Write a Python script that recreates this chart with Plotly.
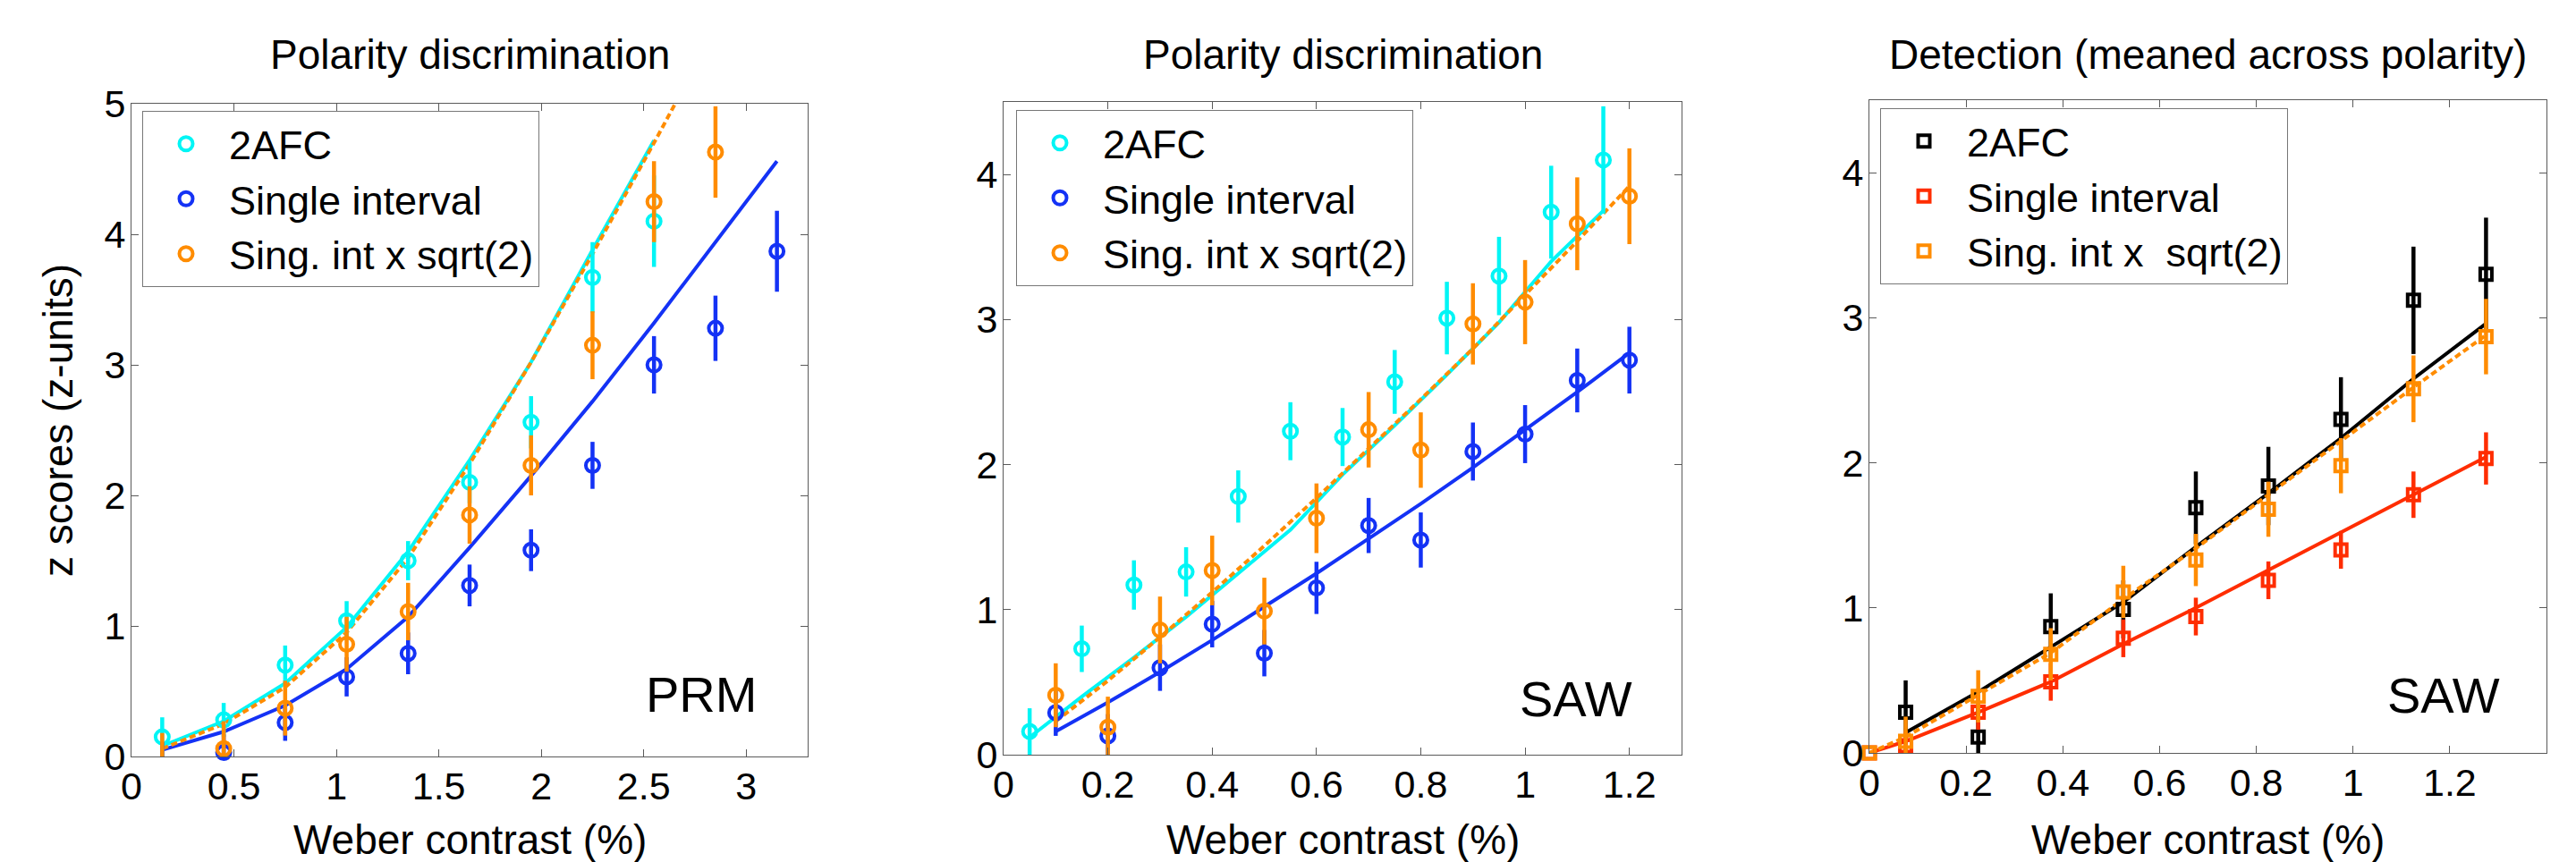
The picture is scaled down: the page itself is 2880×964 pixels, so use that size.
import plotly.graph_objects as go

FONT = "Liberation Sans, Arial, Helvetica, sans-serif"

CYAN = "#00F5F5"
BLUE = "#1432F5"
ORANGE = "#FF8C00"
RED = "#FF2D00"
BLACK = "#000000"

# ---------------- Panel 1 : Polarity discrimination, PRM ----------------
p1_x_2afc = [0.15, 0.45, 0.75, 1.05, 1.35, 1.65, 1.95, 2.25, 2.55]
p1_y_2afc = [0.15, 0.28, 0.70, 1.04, 1.50, 2.10, 2.56, 3.67, 4.10]
p1_e_2afc = [0.15, 0.13, 0.15, 0.15, 0.15, 0.16, 0.20, 0.27, 0.35]

p1_x_si = [0.15, 0.45, 0.75, 1.05, 1.35, 1.65, 1.95, 2.25, 2.55, 2.85, 3.15]
p1_y_si = [-0.03, 0.03, 0.26, 0.61, 0.79, 1.31, 1.58, 2.23, 3.00, 3.28, 3.87]
p1_e_si = [0.14, 0.14, 0.14, 0.15, 0.16, 0.16, 0.16, 0.18, 0.22, 0.25, 0.31]

p1_x_sq = [0.15, 0.45, 0.75, 1.05, 1.35, 1.65, 1.95, 2.25, 2.55, 2.85]
p1_y_sq = [-0.05, 0.06, 0.37, 0.86, 1.11, 1.85, 2.23, 3.15, 4.25, 4.63]
p1_e_sq = [0.23, 0.21, 0.21, 0.21, 0.22, 0.22, 0.23, 0.26, 0.31, 0.35]

p1_fit_x_2afc = [0.15, 0.45, 0.75, 1.05, 1.35, 1.65, 1.95, 2.25, 2.55]
p1_fit_y_2afc = [0.08, 0.27, 0.56, 0.99, 1.57, 2.27, 3.02, 3.88, 4.72]
p1_fit_x_si = [0.15, 0.45, 0.75, 1.05, 1.35, 1.65, 1.95, 2.25, 2.55, 2.85, 3.15]
p1_fit_y_si = [0.05, 0.19, 0.39, 0.67, 1.07, 1.60, 2.15, 2.72, 3.32, 3.94, 4.56]
p1_fit_x_sq = [0.15, 0.45, 0.75, 1.05, 1.35, 1.65, 1.95, 2.25, 2.55, 2.85]
p1_fit_y_sq = [0.06, 0.25, 0.53, 0.95, 1.52, 2.24, 3.02, 3.85, 4.70, 5.57]

# ---------------- Panel 2 : Polarity discrimination, SAW ----------------
p2_x_2afc = [0.05, 0.15, 0.25, 0.35, 0.45, 0.55, 0.65, 0.75, 0.85, 0.95, 1.05, 1.15]
p2_y_2afc = [0.16, 0.73, 1.17, 1.26, 1.78, 2.23, 2.19, 2.57, 3.01, 3.30, 3.74, 4.10]
p2_e_2afc = [0.16, 0.16, 0.17, 0.17, 0.18, 0.20, 0.20, 0.22, 0.25, 0.27, 0.32, 0.37]

p2_x_si = [0.1, 0.2, 0.3, 0.4, 0.5, 0.6, 0.7, 0.8, 0.9, 1.0, 1.1, 1.2]
p2_y_si = [0.29, 0.13, 0.60, 0.90, 0.70, 1.15, 1.58, 1.48, 2.09, 2.21, 2.58, 2.72]
p2_e_si = [0.16, 0.15, 0.16, 0.16, 0.16, 0.18, 0.19, 0.19, 0.20, 0.20, 0.22, 0.23]

p2_x_sq = [0.1, 0.2, 0.3, 0.4, 0.5, 0.6, 0.7, 0.8, 0.9, 1.0, 1.1, 1.2]
p2_y_sq = [0.41, 0.19, 0.86, 1.27, 0.99, 1.63, 2.24, 2.10, 2.97, 3.12, 3.66, 3.85]
p2_e_sq = [0.22, 0.21, 0.23, 0.24, 0.23, 0.24, 0.26, 0.26, 0.28, 0.29, 0.32, 0.33]

p2_fit_x_2afc = [0.05, 0.15, 0.25, 0.35, 0.45, 0.55, 0.65, 0.75, 0.85, 0.95, 1.05, 1.15]
p2_fit_y_2afc = [0.12, 0.40, 0.67, 0.95, 1.25, 1.55, 1.93, 2.27, 2.62, 2.98, 3.40, 3.75]
p2_fit_x_si = [0.1, 0.2, 0.3, 0.4, 0.5, 0.6, 0.7, 0.8, 0.9, 1.0, 1.1, 1.2]
p2_fit_y_si = [0.16, 0.36, 0.57, 0.79, 1.02, 1.25, 1.49, 1.73, 1.98, 2.24, 2.50, 2.77]
p2_fit_x_sq = [0.1, 0.2, 0.3, 0.4, 0.5, 0.6, 0.7, 0.8, 0.9, 1.0, 1.1, 1.2]
p2_fit_y_sq = [0.23, 0.51, 0.81, 1.12, 1.44, 1.77, 2.11, 2.45, 2.80, 3.17, 3.54, 3.92]

# ---------------- Panel 3 : Detection, SAW ----------------
p3_x_2afc = [0.075, 0.225, 0.375, 0.525, 0.675, 0.825, 0.975, 1.125, 1.275]
p3_y_2afc = [0.28, 0.11, 0.87, 0.99, 1.69, 1.84, 2.30, 3.12, 3.30]
p3_e_2afc = [0.22, 0.20, 0.23, 0.20, 0.25, 0.27, 0.29, 0.37, 0.39]

p3_x_si = [0.0, 0.075, 0.225, 0.375, 0.525, 0.675, 0.825, 0.975, 1.125, 1.275]
p3_y_si = [0.0, 0.05, 0.28, 0.49, 0.79, 0.94, 1.19, 1.40, 1.78, 2.03]
p3_e_si = [0.0, 0.10, 0.12, 0.13, 0.13, 0.13, 0.13, 0.13, 0.16, 0.18]

p3_x_sq = [0.0, 0.075, 0.225, 0.375, 0.525, 0.675, 0.825, 0.975, 1.125, 1.275]
p3_y_sq = [0.0, 0.08, 0.39, 0.68, 1.11, 1.33, 1.68, 1.98, 2.51, 2.87]
p3_e_sq = [0.0, 0.17, 0.18, 0.18, 0.18, 0.18, 0.19, 0.19, 0.23, 0.26]

p3_fit_x_2afc = [0.075, 0.225, 0.375, 0.525, 0.675, 0.825, 0.975, 1.125, 1.275]
p3_fit_y_2afc = [0.14, 0.42, 0.73, 1.04, 1.42, 1.79, 2.17, 2.58, 2.96]
p3_fit_x_si = [0.0, 0.075, 0.225, 0.375, 0.525, 0.675, 0.825, 0.975, 1.125, 1.275]
p3_fit_y_si = [0.0, 0.08, 0.28, 0.49, 0.75, 1.00, 1.26, 1.52, 1.78, 2.04]
p3_fit_x_sq = [0.0, 0.075, 0.225, 0.375, 0.525, 0.675, 0.825, 0.975, 1.125, 1.275]
p3_fit_y_sq = [0.0, 0.11, 0.40, 0.69, 1.06, 1.41, 1.78, 2.15, 2.52, 2.88]

legend_labels_12 = ["2AFC", "Single interval", "Sing. int x sqrt(2)"]
legend_labels_3 = ["2AFC", "Single interval", "Sing. int x \u00a0sqrt(2)"]
panel_titles = ["Polarity discrimination", "Polarity discrimination",
                "Detection (meaned across polarity)"]
panel_tags = ["PRM", "SAW", "SAW"]
x_title = "Weber contrast (%)"
y_title = "z scores (z-units)"

W, H = 2880, 964
# axis pixel boxes (left, right, top, bottom)
boxes = [(147, 903, 116, 846), (1122, 1880, 114, 844), (2090, 2847, 112, 842)]
legend_pos = [(159, 124), (1136, 123), (2102, 121)]
tag_pos = [(848, 776), (1827, 781), (2797, 777)]
x_ranges = [[0, 3.3], [0, 1.3], [0, 1.4]]
y_ranges = [[0, 5], [0, 4.5], [0, 4.5]]
x_ticks = [[0, 0.5, 1, 1.5, 2, 2.5, 3], [0, 0.2, 0.4, 0.6, 0.8, 1, 1.2],
           [0, 0.2, 0.4, 0.6, 0.8, 1, 1.2]]
x_ticktext = [["0", "0.5", "1", "1.5", "2", "2.5", "3"],
              ["0", "0.2", "0.4", "0.6", "0.8", "1", "1.2"],
              ["0", "0.2", "0.4", "0.6", "0.8", "1", "1.2"]]
y_ticks = [[0, 1, 2, 3, 4, 5], [0, 1, 2, 3, 4], [0, 1, 2, 3, 4]]

panels = [
    dict(series=[(p1_x_2afc, p1_y_2afc, p1_e_2afc, CYAN),
                 (p1_x_si, p1_y_si, p1_e_si, BLUE),
                 (p1_x_sq, p1_y_sq, p1_e_sq, ORANGE)],
         fits=[(p1_fit_x_si, p1_fit_y_si, BLUE, "solid"),
               (p1_fit_x_2afc, p1_fit_y_2afc, CYAN, "solid"),
               (p1_fit_x_sq, p1_fit_y_sq, ORANGE, "7px,4px")],
         symbol="circle-open", labels=legend_labels_12),
    dict(series=[(p2_x_2afc, p2_y_2afc, p2_e_2afc, CYAN),
                 (p2_x_si, p2_y_si, p2_e_si, BLUE),
                 (p2_x_sq, p2_y_sq, p2_e_sq, ORANGE)],
         fits=[(p2_fit_x_si, p2_fit_y_si, BLUE, "solid"),
               (p2_fit_x_2afc, p2_fit_y_2afc, CYAN, "solid"),
               (p2_fit_x_sq, p2_fit_y_sq, ORANGE, "7px,4px")],
         symbol="circle-open", labels=legend_labels_12),
    dict(series=[(p3_x_2afc, p3_y_2afc, p3_e_2afc, BLACK),
                 (p3_x_si, p3_y_si, p3_e_si, RED),
                 (p3_x_sq, p3_y_sq, p3_e_sq, ORANGE)],
         fits=[(p3_fit_x_2afc, p3_fit_y_2afc, BLACK, "solid"),
               (p3_fit_x_si, p3_fit_y_si, RED, "solid"),
               (p3_fit_x_sq, p3_fit_y_sq, ORANGE, "7px,4px")],
         symbol="square-open", labels=legend_labels_3),
]

fig = go.Figure()
layout = dict(width=W, height=H,
              margin=dict(l=0, r=0, t=0, b=0, pad=0, autoexpand=False),
              template="none",
              paper_bgcolor="white", plot_bgcolor="white",
              font=dict(family=FONT, color="black", size=43),
              showlegend=True, annotations=[])

AX = "#5a5a5a"
for i, (l, r, t, b) in enumerate(boxes):
    n = "" if i == 0 else str(i + 1)
    xa, ya = "x" + n, "y" + n
    layout["xaxis" + n] = dict(
        domain=[l / W, r / W], anchor=ya, range=x_ranges[i], automargin=False,
        tickvals=x_ticks[i], ticktext=x_ticktext[i],
        ticks="inside", ticklen=8, tickwidth=1, tickcolor=AX,
        showline=True, linecolor=AX, linewidth=1, mirror="allticks",
        showgrid=False, zeroline=False, tickfont=dict(size=43, family=FONT),
        ticklabelstandoff=-5)
    layout["yaxis" + n] = dict(
        domain=[1 - b / H, 1 - t / H], anchor=xa, range=y_ranges[i],
        automargin=False,
        tickvals=y_ticks[i], ticks="inside", ticklen=8, tickwidth=1,
        tickcolor=AX, showline=True, linecolor=AX, linewidth=1,
        mirror="allticks", showgrid=False, zeroline=False,
        tickfont=dict(size=43, family=FONT), ticklabelstandoff=-3)

    p = panels[i]
    leg = "legend" if i == 0 else "legend" + str(i + 1)
    for fx, fy, col, dash in p["fits"]:
        fig.add_trace(go.Scatter(x=fx, y=fy, mode="lines", xaxis=xa, yaxis=ya,
                                 line=dict(color=col, width=4, dash=dash),
                                 showlegend=False, hoverinfo="skip"))
    for k, (sx, sy, se, col) in enumerate(p["series"]):
        # error bars (clipped to the axes)
        fig.add_trace(go.Scatter(x=sx, y=sy, mode="markers", xaxis=xa, yaxis=ya,
                                 marker=dict(size=2, opacity=0),
                                 error_y=dict(type="data", array=se, visible=True,
                                              color=col, thickness=4.5, width=0),
                                 showlegend=False, hoverinfo="skip"))
        # markers (not clipped at the axis edge, hidden if centre is outside)
        vis_y = [v if v >= 0 else None for v in sy]
        fig.add_trace(go.Scatter(x=sx, y=vis_y, mode="markers", xaxis=xa, yaxis=ya,
                                 cliponaxis=False, name=p["labels"][k],
                                 legend=leg,
                                 marker=dict(symbol=p["symbol"], size=15 if i < 2 else 13,
                                             color=col, line=dict(color=col, width=4)),
                                 showlegend=True))
    lx, ly = legend_pos[i]
    layout[leg] = dict(x=lx / W, y=1 - ly / H,
                       xanchor="left", yanchor="top",
                       bgcolor="white", bordercolor="#777", borderwidth=1,
                       font=dict(size=45, family=FONT, color="black"),
                       itemwidth=86, tracegroupgap=0)

    cx = (l + r) / 2
    layout["annotations"].append(dict(
        text=panel_titles[i], x=cx / W, y=1 - 61 / H, xref="paper", yref="paper",
        xanchor="center", yanchor="middle", showarrow=False,
        font=dict(size=46, family=FONT)))
    layout["annotations"].append(dict(
        text=x_title, x=cx / W, y=1 - 939 / H, xref="paper", yref="paper",
        xanchor="center", yanchor="middle", showarrow=False,
        font=dict(size=46, family=FONT)))
    tx, ty = tag_pos[i]
    layout["annotations"].append(dict(
        text=panel_tags[i], x=tx / W, y=1 - ty / H, xref="paper",
        yref="paper", xanchor="right", yanchor="middle", showarrow=False,
        font=dict(size=56, family=FONT)))

layout["annotations"].append(dict(
    text=y_title, x=65 / W, y=1 - 470 / H, xref="paper", yref="paper",
    xanchor="center", yanchor="middle", textangle=-90, showarrow=False,
    font=dict(size=46, family=FONT)))

fig.update_layout(**layout)
fig.write_html("out.html", config={"displayModeBar": False},
               post_script="document.body.style.margin='0';"
                           "document.body.style.overflow='hidden';")
